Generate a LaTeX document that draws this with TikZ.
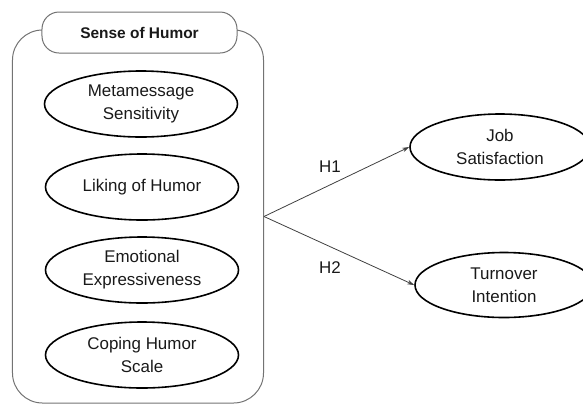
\documentclass[tikz,border=0pt]{standalone}
\usepackage{fontspec}
\setmainfont{Liberation Sans}
\usetikzlibrary{shapes.geometric,arrows.meta}
\begin{document}
\begin{tikzpicture}[x=1bp,y=-1bp,
  every node/.style={font=\fontsize{17}{23}\selectfont, align=center, text=black!90},
  oval/.style={ellipse, draw=black, line width=1.6bp, inner sep=0pt, minimum width=193bp, minimum height=66bp},
  roval/.style={ellipse, draw=black, line width=1.6bp, inner sep=0pt, minimum width=180bp, minimum height=66bp},
  frame/.style={draw=black!55, line width=1bp, rounded corners=30bp, inner sep=0pt, minimum width=251bp, minimum height=373bp},
  titlebox/.style={draw=black!55, fill=white, line width=1bp, rounded corners=17bp, inner sep=0pt, minimum width=195bp, minimum height=41bp, font=\fontsize{15.5}{20}\selectfont\bfseries},
  hyp/.style={draw=black!75, line width=0.8bp, -{Stealth[length=7bp,width=4.5bp]}},
  lbl/.style={font=\fontsize{17}{23}\selectfont}
]
\clip (0,0) rectangle (583,404);
\node[frame] (outer) at (138,216.5) {};
\node[titlebox] (title) at (139.5,32.5) {Sense of Humor};
\node[oval] (meta) at (141,104) {Metamessage\\Sensitivity};
\node[oval] (liking) at (142,187) {Liking of Humor};
\node[oval] (emo) at (142,270) {Emotional\\Expressiveness};
\node[oval] (coping) at (142,355) {Coping Humor\\Scale};
\node[roval] (job) at (500,147) {Job\\Satisfaction};
\node[roval, minimum width=178bp, minimum height=65bp] (turn) at (504,285) {Turnover\\Intention};
\draw[hyp] (outer.east) -- (job.west);
\draw[hyp] (outer.east) -- (turn.west);
\node[lbl] (h1) at (330,167) {H1};
\node[lbl] (h2) at (330,268) {H2};
\end{tikzpicture}
\end{document}
